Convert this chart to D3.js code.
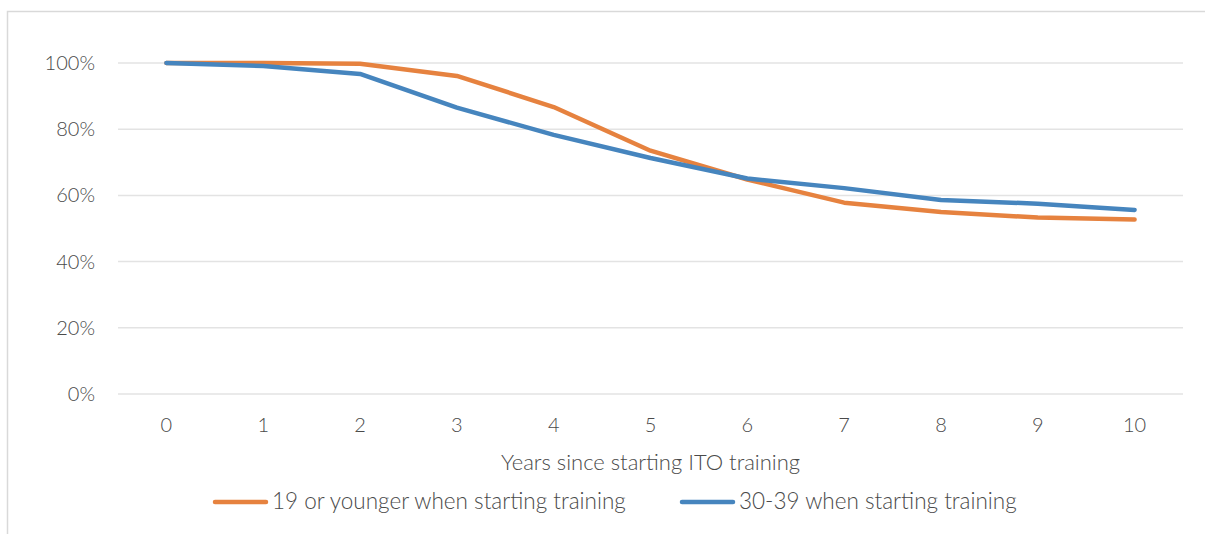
<!DOCTYPE html>
<html>
<head>
<meta charset="utf-8">
<script src="https://cdn.jsdelivr.net/npm/d3@7"></script>
<style>
  html, body { margin: 0; padding: 0; background: #fff; }
  svg { display: block; }
  text { font-family: Lato, "Open Sans", sans-serif; font-weight: 300; fill: #4a4a4a; }
</style>
</head>
<body>
<svg id="chart" width="1205" height="534"></svg>
<script>
// Years since starting ITO training
const years = ["0", "1", "2", "3", "4", "5", "6", "7", "8", "9", "10"];
// Share still in training/industry, by age at start
const youngValues = [1.000, 1.000, 0.998, 0.961, 0.867, 0.735, 0.648, 0.578, 0.550, 0.533, 0.527];
const olderValues = [1.000, 0.991, 0.967, 0.865, 0.783, 0.713, 0.651, 0.622, 0.586, 0.575, 0.556];
const seriesNames = ["19 or younger when starting training", "30-39 when starting training"];
const seriesColors = ["#E6823F", "#4685BE"];
const yTicks = [0, 0.2, 0.4, 0.6, 0.8, 1.0];
const xTitle = "Years since starting ITO training";

const svg = d3.select("#chart");
const fontStack = "Lato, 'Open Sans', sans-serif";
const textColor = "#4a4a4a";

// chart area frame
svg.append("rect")
  .attr("x", 7.5).attr("y", 11.5)
  .attr("width", 1400).attr("height", 600)
  .attr("fill", "none").attr("stroke", "#d9d9d9").attr("stroke-width", 1.5);

const plot = { left: 118, right: 1183, top: 63, bottom: 394 };

const x = d3.scaleBand().domain(years).range([plot.left, plot.right]);
const y = d3.scaleLinear().domain([0, 1]).range([plot.bottom, plot.top]);

// horizontal gridlines
svg.append("g")
  .selectAll("line")
  .data(yTicks)
  .join("line")
  .attr("x1", plot.left).attr("x2", plot.right)
  .attr("y1", d => y(d)).attr("y2", d => y(d))
  .attr("stroke", "#e3e3e3").attr("stroke-width", 1.5);

// y axis labels
const yAxis = d3.axisLeft(y).tickValues(yTicks).tickFormat(d3.format(".0%")).tickSize(0).tickPadding(0);
const gy = svg.append("g").attr("transform", `translate(95,0)`).call(yAxis);
gy.select(".domain").remove();
gy.selectAll("text").style("font-size", "20px").style("font-family", fontStack).style("font-weight", 300).attr("fill", textColor);

// x axis labels
const xAxis = d3.axisBottom(x).tickSize(0).tickPadding(0);
const gx = svg.append("g").attr("transform", `translate(0,${plot.bottom + 24})`).call(xAxis);
gx.select(".domain").remove();
gx.selectAll("text").style("font-size", "20px").style("font-family", fontStack).style("font-weight", 300).attr("fill", textColor);

// axis title
svg.append("text")
  .attr("x", (plot.left + plot.right) / 2).attr("y", 470)
  .attr("text-anchor", "middle")
  .style("font-size", "22px")
  .text(xTitle);

// lines
const line = d3.line()
  .x((d, i) => x(years[i]) + x.bandwidth() / 2)
  .y(d => y(d));

[youngValues, olderValues].forEach((vals, i) => {
  svg.append("path")
    .datum(vals)
    .attr("d", line)
    .attr("fill", "none")
    .attr("stroke", seriesColors[i])
    .attr("stroke-width", 4.5)
    .attr("stroke-linecap", "round")
    .attr("stroke-linejoin", "round");
});

// legend
const legendItems = [
  { name: seriesNames[0], color: seriesColors[0], x: 215 },
  { name: seriesNames[1], color: seriesColors[1], x: 682 }
];
const lg = svg.append("g").selectAll("g").data(legendItems).join("g")
  .attr("transform", d => `translate(${d.x},502)`);
lg.append("line")
  .attr("x1", 0).attr("x2", 51).attr("y1", 0).attr("y2", 0)
  .attr("stroke", d => d.color).attr("stroke-width", 4.5).attr("stroke-linecap", "round");
lg.append("text")
  .attr("x", 57).attr("y", 7)
  .style("font-size", "22.5px")
  .text(d => d.name);
</script>
</body>
</html>
